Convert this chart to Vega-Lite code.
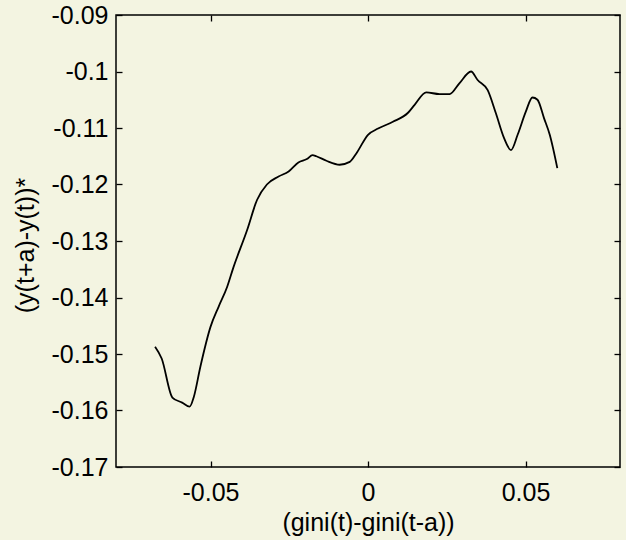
{
  "$schema": "https://vega.github.io/schema/vega-lite/v6.json",
  "width": 504,
  "height": 452,
  "autosize": "none",
  "padding": {"left": 116, "top": 15, "right": 6, "bottom": 73},
  "background": "#f3f4e1",
  "config": {
    "view": {"stroke": "black", "strokeWidth": 1.5, "fill": "#f3f4e1"},
    "axis": {
      "domain": false,
      "grid": false,
      "tickColor": "black",
      "tickWidth": 1.3,
      "labelFont": "Liberation Sans",
      "labelFontSize": 25,
      "labelColor": "black",
      "titleFont": "Liberation Sans",
      "titleFontSize": 25,
      "titleFontWeight": "normal",
      "titleColor": "black"
    }
  },
  "data": {
    "values": [
      {"x": -0.0676, "y": -0.1487},
      {"x": -0.0655, "y": -0.1508},
      {"x": -0.0621, "y": -0.1577},
      {"x": -0.0590, "y": -0.1586},
      {"x": -0.0566, "y": -0.1593},
      {"x": -0.0553, "y": -0.1576},
      {"x": -0.0532, "y": -0.1522},
      {"x": -0.0500, "y": -0.1452},
      {"x": -0.0474, "y": -0.1416},
      {"x": -0.0447, "y": -0.1381},
      {"x": -0.0428, "y": -0.1348},
      {"x": -0.0384, "y": -0.1281},
      {"x": -0.0352, "y": -0.1227},
      {"x": -0.0321, "y": -0.1200},
      {"x": -0.0284, "y": -0.1186},
      {"x": -0.0252, "y": -0.1177},
      {"x": -0.0221, "y": -0.1161},
      {"x": -0.0194, "y": -0.1155},
      {"x": -0.0176, "y": -0.1148},
      {"x": -0.0164, "y": -0.1150},
      {"x": -0.0132, "y": -0.1158},
      {"x": -0.0090, "y": -0.1165},
      {"x": -0.0058, "y": -0.1160},
      {"x": -0.0037, "y": -0.1145},
      {"x": 0.0000, "y": -0.1112},
      {"x": 0.0032, "y": -0.1101},
      {"x": 0.0079, "y": -0.1089},
      {"x": 0.0127, "y": -0.1073},
      {"x": 0.0148, "y": -0.1059},
      {"x": 0.0185, "y": -0.1037},
      {"x": 0.0227, "y": -0.1040},
      {"x": 0.0259, "y": -0.1040},
      {"x": 0.0290, "y": -0.1021},
      {"x": 0.0327, "y": -0.1000},
      {"x": 0.0348, "y": -0.1015},
      {"x": 0.0380, "y": -0.1033},
      {"x": 0.0406, "y": -0.1074},
      {"x": 0.0432, "y": -0.1118},
      {"x": 0.0454, "y": -0.1139},
      {"x": 0.0475, "y": -0.1112},
      {"x": 0.0501, "y": -0.1071},
      {"x": 0.0522, "y": -0.1046},
      {"x": 0.0538, "y": -0.1050},
      {"x": 0.0559, "y": -0.1083},
      {"x": 0.0577, "y": -0.1112},
      {"x": 0.0601, "y": -0.1171}
    ]
  },
  "layer": [
    {
      "mark": {"type": "line", "color": "black", "strokeWidth": 1.8, "interpolate": "monotone"},
      "encoding": {
        "x": {
          "field": "x", "type": "quantitative",
          "scale": {"domain": [-0.08, 0.08], "nice": false, "zero": false},
          "axis": {
            "orient": "bottom",
            "values": [-0.05, 0, 0.05],
            "ticks": false,
            "tickSize": 0,
            "labelExpr": "toString(datum.value)",
            "labelPadding": 13,
            "title": "(gini(t)-gini(t-a))",
            "titleBaseline": "alphabetic",
            "titleY": 63
          }
        },
        "y": {
          "field": "y", "type": "quantitative",
          "scale": {"domain": [-0.17, -0.09], "nice": false, "zero": false},
          "axis": {
            "orient": "left",
            "values": [-0.17, -0.16, -0.15, -0.14, -0.13, -0.12, -0.11, -0.1, -0.09],
            "ticks": false,
            "tickSize": 0,
            "labelExpr": "toString(datum.value)",
            "labelPadding": 8,
            "title": "(y(t+a)-y(t))*",
            "titleAngle": -90,
            "titleAlign": "center",
            "titleBaseline": "alphabetic",
            "titleX": -83,
            "titleY": 230
          }
        }
      }
    },
    {
      "mark": {"type": "line", "strokeOpacity": 0},
      "encoding": {
        "x": {
          "field": "x", "type": "quantitative",
          "scale": {"domain": [-0.08, 0.08], "nice": false, "zero": false},
          "axis": {"orient": "top", "offset": -6, "tickSize": 6, "values": [-0.05, 0, 0.05], "labels": false, "title": null}
        },
        "y": {
          "field": "y", "type": "quantitative",
          "scale": {"domain": [-0.17, -0.09], "nice": false, "zero": false},
          "axis": {"orient": "right", "offset": -6, "tickSize": 6, "values": [-0.17, -0.16, -0.15, -0.14, -0.13, -0.12, -0.11, -0.1, -0.09], "labels": false, "title": null}
        }
      }
    },
    {
      "mark": {"type": "line", "strokeOpacity": 0},
      "encoding": {
        "x": {
          "field": "x", "type": "quantitative",
          "scale": {"domain": [-0.08, 0.08], "nice": false, "zero": false},
          "axis": {"orient": "bottom", "offset": -6, "tickSize": 6, "values": [-0.05, 0, 0.05], "labels": false, "title": null}
        },
        "y": {
          "field": "y", "type": "quantitative",
          "scale": {"domain": [-0.17, -0.09], "nice": false, "zero": false},
          "axis": {"orient": "left", "offset": -6, "tickSize": 6, "values": [-0.17, -0.16, -0.15, -0.14, -0.13, -0.12, -0.11, -0.1, -0.09], "labels": false, "title": null}
        }
      }
    }
  ],
  "resolve": {"scale": {"x": "independent", "y": "independent"}, "axis": {"x": "independent", "y": "independent"}}
}
